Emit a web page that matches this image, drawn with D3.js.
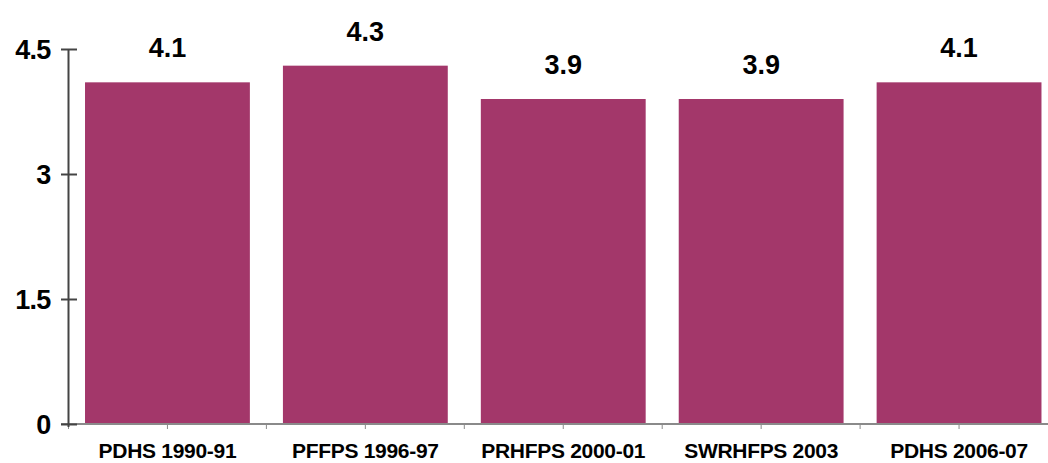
<!DOCTYPE html>
<html>
<head>
<meta charset="utf-8">
<script src="https://cdn.jsdelivr.net/npm/d3@7"></script>
<style>
  body { margin: 0; background: #fff; }
  text { font-family: "Liberation Sans", Arial, sans-serif; font-weight: bold; fill: #000; }
</style>
</head>
<body>
<svg id="chart" width="1048" height="463"></svg>
<script>
const categories = ["PDHS 1990-91", "PFFPS 1996-97", "PRHFPS 2000-01", "SWRHFPS 2003", "PDHS 2006-07"];
const values = [4.1, 4.3, 3.9, 3.9, 4.1];
const yTicks = [0, 1.5, 3, 4.5];

const svg = d3.select("#chart");
const x0 = 68.5, x1 = 1058, yBase = 424, yTop = 49;

const x = d3.scaleBand().domain(categories).range([x0, x1])
  .paddingInner(0.167).paddingOuter(0.0835);
const y = d3.scaleLinear().domain([0, 4.5]).range([yBase, yTop]);

// bars
svg.append("g").selectAll("rect")
  .data(values)
  .enter()
  .append("rect")
  .attr("x", (d, i) => x(categories[i]))
  .attr("y", d => y(d))
  .attr("width", x.bandwidth())
  .attr("height", d => yBase - y(d))
  .attr("fill", "#a3376a");

// value labels
svg.append("g").selectAll("text")
  .data(values)
  .enter()
  .append("text")
  .attr("x", (d, i) => x(categories[i]) + x.bandwidth() / 2)
  .attr("y", d => y(d) - 25)
  .attr("text-anchor", "middle")
  .style("font-size", "27px")
  .text(d => d.toFixed(1));

// x baseline with ticks at slot edges and centers
const step = x.step();
const xTickPos = [];
categories.forEach((c, i) => {
  const left = x0 + i * step;
  xTickPos.push(left, left + step / 2);
});
svg.append("line")
  .attr("x1", 61).attr("x2", x1)
  .attr("y1", yBase).attr("y2", yBase)
  .attr("stroke", "#8a8a8a").attr("stroke-width", 2);
svg.append("g").selectAll("line")
  .data(xTickPos)
  .enter()
  .append("line")
  .attr("x1", d => d).attr("x2", d => d)
  .attr("y1", yBase).attr("y2", yBase + 5)
  .attr("stroke", "#8a8a8a").attr("stroke-width", 1);

// category labels
svg.append("g").selectAll("text.cat")
  .data(categories)
  .enter()
  .append("text")
  .attr("class", "cat")
  .attr("x", d => x(d) + x.bandwidth() / 2)
  .attr("y", 458)
  .attr("text-anchor", "middle")
  .style("font-size", "21px")
  .style("letter-spacing", "-0.3px")
  .text(d => d);

// y axis
const yAxis = d3.axisLeft(y).tickValues(yTicks).tickSize(0).tickFormat(d3.format("~g"));
const gy = svg.append("g").attr("transform", `translate(${x0},0)`).call(yAxis);
gy.select(".domain").remove();
gy.selectAll("text").remove();
svg.append("line")
  .attr("x1", x0).attr("x2", x0)
  .attr("y1", yTop).attr("y2", yBase + 3)
  .attr("stroke", "#444").attr("stroke-width", 2);
gy.selectAll(".tick").append("line")
  .attr("x1", -7.5).attr("x2", 8.5)
  .attr("stroke", "#444").attr("stroke-width", 2);
gy.selectAll(".tick").append("text")
  .attr("x", -18)
  .attr("dy", "0.36em")
  .attr("text-anchor", "end")
  .style("font-size", "27px")
  .style("letter-spacing", "-0.8px")
  .text(d => d3.format("~g")(d));
</script>
</body>
</html>
